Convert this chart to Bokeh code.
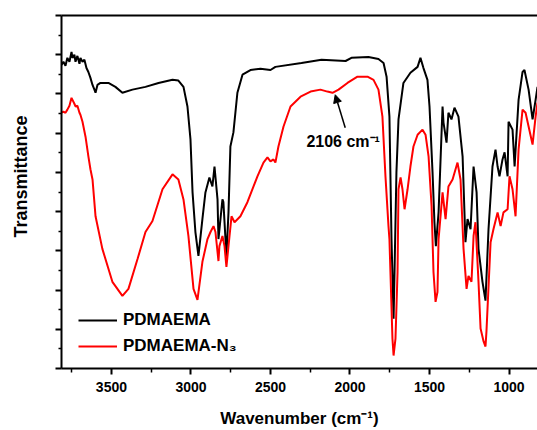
import math
from bokeh.plotting import figure
from bokeh.models import (Range1d, FixedTicker, LinearAxis, Legend, LegendItem,
                          Arrow, NormalHead, Label, Title)
from bokeh.embed import file_html
from bokeh.resources import INLINE

# ---- data ----
wn_pdmaema = [3814, 3802, 3789, 3777, 3764, 3751, 3745, 3733, 3726, 3714,
              3701, 3695, 3682, 3670, 3657, 3645, 3632, 3619, 3607, 3600,
              3588, 3569, 3519, 3475, 3431, 3368, 3286, 3204, 3116, 3079,
              3047, 3022, 3003, 2990, 2972, 2953, 2928, 2909, 2884, 2865,
              2852, 2833, 2827, 2802, 2796, 2777, 2764, 2752, 2733, 2708,
              2676, 2626, 2563, 2500, 2469, 2305, 2179, 2028, 1991, 1884,
              1821, 1789, 1770, 1752, 1739, 1726, 1720, 1708, 1695, 1664,
              1620, 1575, 1557, 1538, 1513, 1500, 1481, 1469, 1460, 1443,
              1418, 1412, 1393, 1381, 1362, 1343, 1318, 1292, 1274, 1261,
              1242, 1223, 1204, 1192, 1167, 1148, 1129, 1104, 1085, 1072,
              1060, 1041, 1028, 1009, 1003, 978, 965, 940, 915, 903,
              877, 852, 833, 821]
t_pdmaema = [7.74, 7.82, 7.72, 7.92, 7.82, 8.07, 7.92, 8.00, 7.82, 7.97,
             7.77, 7.92, 7.82, 7.87, 7.66, 7.56, 7.41, 7.23, 7.11, 7.03,
             7.23, 7.28, 7.28, 7.18, 7.03, 7.11, 7.18, 7.28, 7.36, 7.34,
             7.18, 6.68, 5.84, 4.49, 3.48, 2.87, 3.81, 4.49, 4.87, 4.64,
             5.15, 4.31, 3.30, 4.31, 4.24, 2.87, 3.98, 5.66, 6.02, 7.03,
             7.49, 7.61, 7.64, 7.61, 7.69, 7.79, 7.87, 7.84, 7.92, 7.94,
             7.89, 7.79, 7.44, 6.42, 3.30, 1.27, 2.46, 5.00, 6.35, 7.28,
             7.54, 7.69, 7.92, 7.66, 7.36, 6.68, 5.00, 3.73, 3.12, 3.98,
             6.68, 6.27, 5.76, 6.52, 6.35, 6.65, 6.42, 5.41, 3.22, 3.81,
             3.55, 5.15, 4.49, 3.05, 2.21, 1.73, 3.55, 5.15, 5.58, 5.15,
             4.90, 5.33, 5.51, 4.90, 6.29, 6.09, 5.15, 6.85, 7.56, 7.61,
             7.11, 6.35, 6.85, 7.18]

wn_n3 = [3814, 3802, 3789, 3777, 3764, 3751, 3745, 3733, 3726, 3714,
         3701, 3695, 3682, 3663, 3645, 3632, 3619, 3600, 3557, 3494,
         3431, 3393, 3336, 3286, 3242, 3179, 3116, 3079, 3047, 3016,
         2984, 2959, 2928, 2896, 2877, 2858, 2846, 2827, 2821, 2802,
         2789, 2777, 2764, 2745, 2726, 2689, 2645, 2582, 2544, 2519,
         2500, 2481, 2469, 2450, 2418, 2374, 2311, 2248, 2186, 2142,
         2110, 2072, 2016, 1953, 1890, 1852, 1821, 1796, 1777, 1758,
         1752, 1733, 1726, 1714, 1701, 1695, 1682, 1670, 1657, 1638,
         1620, 1601, 1575, 1544, 1525, 1506, 1487, 1475, 1462, 1450,
         1443, 1418, 1399, 1381, 1355, 1324, 1305, 1286, 1267, 1255,
         1236, 1223, 1211, 1192, 1179, 1160, 1148, 1142, 1116, 1098,
         1072, 1053, 1035, 1009, 997, 978, 959, 940, 915, 896,
         877, 852, 833, 821]
t_n3 = [6.52, 6.55, 6.52, 6.60, 6.70, 6.90, 6.85, 6.75, 6.68, 6.70,
        6.52, 6.47, 6.29, 5.91, 5.41, 5.08, 4.82, 3.88, 3.05, 2.21,
        1.85, 2.03, 2.79, 3.48, 3.76, 4.57, 4.95, 4.82, 4.31, 3.38,
        2.03, 1.75, 2.72, 3.30, 3.48, 3.63, 3.48, 2.74, 3.12, 3.38,
        3.12, 2.59, 3.12, 3.88, 3.73, 3.88, 4.24, 4.90, 5.25, 5.38,
        5.28, 5.33, 5.25, 5.66, 6.17, 6.68, 6.93, 7.06, 7.11, 7.06,
        7.03, 7.11, 7.28, 7.44, 7.44, 7.36, 7.11, 6.42, 4.90, 3.63,
        3.30, 0.76, 0.33, 0.76, 2.46, 4.57, 4.87, 4.57, 4.06, 4.57,
        5.15, 5.66, 5.96, 6.09, 5.96, 5.41, 4.14, 2.46, 1.70, 1.95,
        3.30, 4.49, 3.81, 4.64, 4.82, 5.25, 4.82, 3.05, 2.03, 2.36,
        2.21, 3.38, 3.73, 2.21, 1.02, 0.69, 0.56, 0.94, 3.22, 3.55,
        3.98, 3.63, 3.98, 4.06, 4.90, 4.57, 3.88, 5.58, 6.60, 6.52,
        6.17, 5.71, 6.42, 6.78]

series_names = ["PDMAEMA", "PDMAEMA-N\u2083"]
x_ticks = [1000, 1500, 2000, 2500, 3000, 3500]
x_minor = [1250, 1750, 2250, 2750, 3250, 3750]
y_ticks = [0, 1, 2, 3, 4, 5, 6, 7, 8, 9]
y_minor = [0.5, 1.5, 2.5, 3.5, 4.5, 5.5, 6.5, 7.5, 8.5]
annot_text = "2106 cm\u207b\u00b9"
annot_peak = (2093, 6.98)
annot_tail = (2030, 6.14)

FONT = "Liberation Sans"

p = figure(width=537, height=430, output_backend="svg", toolbar_location=None,
           x_range=Range1d(3814, 821), y_range=Range1d(0, 9),
           min_border_left=61, min_border_right=0, min_border_top=15,
           min_border_bottom=60, background_fill_color="white",
           border_fill_color="white", outline_line_color=None)
p.grid.visible = False

r1 = p.line(wn_pdmaema, t_pdmaema, line_color="black", line_width=2)
r2 = p.line(wn_n3, t_n3, line_color="#ff0000", line_width=2)

# bottom axis
xa = p.xaxis[0]
xa.ticker = FixedTicker(ticks=x_ticks, minor_ticks=x_minor)
xa.axis_line_width = 2
xa.axis_line_color = "black"
xa.major_tick_line_width = 2
xa.major_tick_line_color = "black"
xa.minor_tick_line_width = 1.5
xa.minor_tick_line_color = "black"
xa.major_tick_in = 0
xa.major_tick_out = 6
xa.minor_tick_in = 0
xa.minor_tick_out = 4
xa.major_label_text_font = FONT
xa.major_label_text_font_size = "14px"
xa.major_label_text_font_style = "bold"
xa.major_label_text_color = "black"
xa.major_label_standoff = 7
xa.axis_label = "Wavenumber (cm\u207b\u00b9)"
xa.axis_label_text_font = FONT
xa.axis_label_text_font_size = "17px"
xa.axis_label_text_font_style = "bold"
xa.axis_label_text_color = "black"
xa.axis_label_standoff = 14

# left axis
ya = p.yaxis[0]
ya.ticker = FixedTicker(ticks=y_ticks, minor_ticks=y_minor)
ya.axis_line_width = 2
ya.axis_line_color = "black"
ya.major_tick_line_width = 2
ya.major_tick_line_color = "black"
ya.minor_tick_line_width = 1.5
ya.minor_tick_line_color = "black"
ya.major_tick_in = 0
ya.major_tick_out = 6
ya.minor_tick_in = 0
ya.minor_tick_out = 3
ya.major_label_text_font_size = "0px"
ya.major_label_overrides = {t: "" for t in y_ticks}
ya.major_label_standoff = 0

# top frame line
top = LinearAxis(ticker=FixedTicker(ticks=[]), major_label_text_font_size="0px",
                 axis_line_width=2, axis_line_color="black",
                 major_tick_out=0, minor_tick_out=0, major_tick_in=0,
                 minor_tick_in=0, major_label_standoff=0)
p.add_layout(top, "above")

# invisible spacer between the left axis and the y title
spacer = LinearAxis(ticker=FixedTicker(ticks=[4.25]), axis_line_color=None,
                    major_tick_line_color="white", major_tick_line_width=1,
                    minor_tick_line_color=None,
                    major_tick_out=18, minor_tick_out=0, major_tick_in=0,
                    minor_tick_in=0, major_label_text_font_size="0px",
                    major_label_overrides={4.25: ""},
                    major_label_standoff=0)
p.add_layout(spacer, "left")

# y label as a side title
p.add_layout(Title(text="Transmittance", align="right", offset=100,
                   standoff=14, text_font=FONT, text_font_size="18px",
                   text_font_style="bold", text_color="black"), "left")

# legend
legend = Legend(items=[LegendItem(label=series_names[0], renderers=[r1]),
                       LegendItem(label=series_names[1], renderers=[r2])],
                location=(17, 12), orientation="vertical",
                glyph_width=39, glyph_height=20, label_height=20,
                label_standoff=6, padding=0, margin=0, spacing=6,
                label_text_font=FONT, label_text_font_size="17px",
                label_text_font_style="bold", label_text_color="black",
                border_line_alpha=0, background_fill_alpha=0)
p.add_layout(legend)

# annotation
p.add_layout(Arrow(end=NormalHead(size=8, fill_color="black", line_color="black",
                                  line_width=1),
                   x_start=annot_tail[0], y_start=annot_tail[1],
                   x_end=annot_peak[0], y_end=annot_peak[1],
                   line_color="black", line_width=1.5))
p.add_layout(Label(x=2274, y=5.79, text=annot_text, text_align="left",
                   text_baseline="middle", text_font=FONT,
                   text_font_size="16px", text_font_style="bold",
                   text_color="black"))

open("out.html", "w").write(file_html(p, INLINE))
